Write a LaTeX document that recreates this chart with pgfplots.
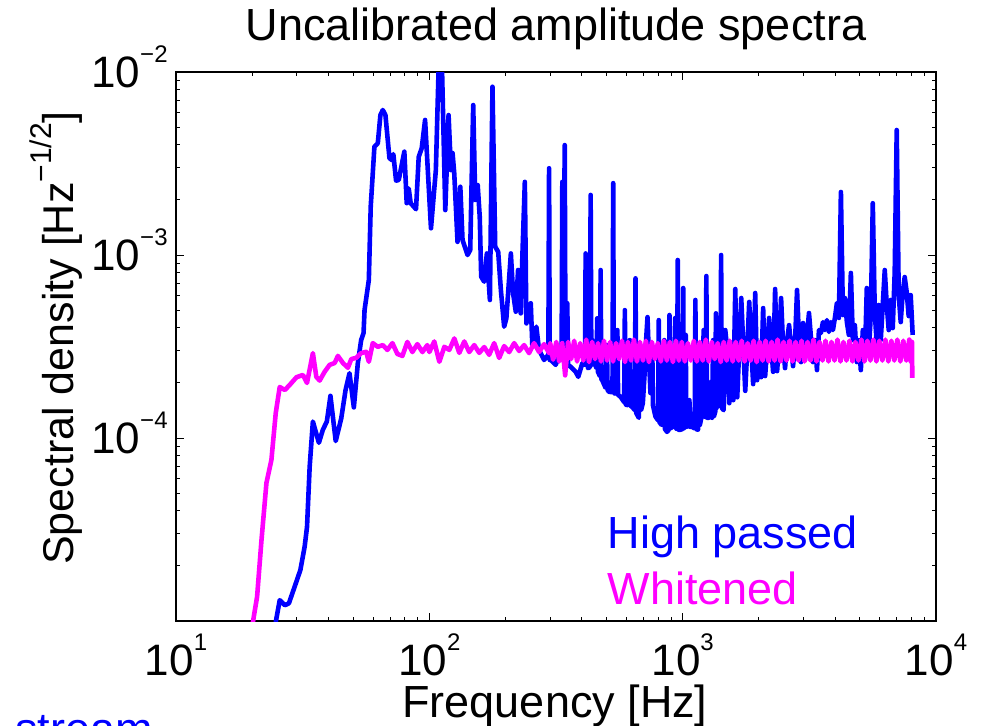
\documentclass[border=0pt]{standalone}
\usepackage{pgfplots}
\pgfplotsset{compat=1.18}
\usepackage{fontspec}
\setmainfont{Liberation Sans}
\definecolor{hpblue}{RGB}{0,0,255}
\definecolor{whmag}{RGB}{255,0,255}
\newcommand\tl[1]{10\raisebox{12.5pt}{\fontsize{12}{12}\selectfont #1}}
\begin{document}
\begin{tikzpicture}
\begin{axis}[
  xmode=log, ymode=log,
  at={(88pt,52pt)}, anchor=south west,
  width=380pt, height=274.5pt, scale only axis,
  xmin=10, xmax=10000, ymin=1e-5, ymax=1e-2,
  xtick={10,100,1000,10000},
  xticklabels={\tl{1},\tl{2},\tl{3},\tl{4}},
  ytick={1e-4,1e-3,1e-2},
  yticklabels={\tl{−4},\tl{−3},\tl{−2}},
  minor xtick={20,30,40,50,60,70,80,90,200,300,400,500,600,700,800,900,2000,3000,4000,5000,6000,7000,8000,9000},
  minor ytick={2e-5,3e-5,4e-5,5e-5,6e-5,7e-5,8e-5,9e-5,2e-4,3e-4,4e-4,5e-4,6e-4,7e-4,8e-4,9e-4,2e-3,3e-3,4e-3,5e-3,6e-3,7e-3,8e-3,9e-3},
  tick align=inside, xtick pos=both, ytick pos=both,
  major tick length=4pt, minor tick length=2pt,
  tick style={black, line width=0.5pt},
  axis line style={line width=0.9pt},
  ticklabel style={font=\fontsize{22}{26}\selectfont, inner sep=0pt},
  xticklabel style={anchor=base, yshift=-27pt},
  yticklabel style={anchor=base east, xshift=-4pt, yshift=-7.9pt},
]
\addplot[hpblue, line width=2.3pt, line join=round] coordinates {
(24.5,8.5e-6)(24.8,1.0e-5)(25.67,1.30e-5)(26.9,1.22e-5)(27.9,1.25e-5)(29.4,1.54e-5)(30.97,1.90e-5)(32.2,2.55e-5)(32.9,3.27e-5)(33.7,6.97e-5)
(34.7,1.23e-4)(36.65,9.42e-5)(38.0,1.11e-4)(39.4,1.23e-4)(40.7,1.70e-4)(42.7,9.63e-5)(44.9,1.28e-4)(46.7,1.83e-4)(48.4,2.26e-4)(50.35,1.47e-4)
(52.2,2.56e-4)(53.8,3.43e-4)(55.0,3.75e-4)(55.5,5.0e-4)(57.7,7.30e-4)(58.7,1.84e-3)(60.7,3.91e-3)(62.6,4.08e-3)(64.1,5.82e-3)(65.5,6.2e-3)
(67.1,5.82e-3)(69.6,3.38e-3)(71.3,3.30e-3)(72.1,3.56e-3)(73.9,2.55e-3)(75.7,2.57e-3)(79.7,3.67e-3)(81.4,1.92e-3)(82.9,2.31e-3)(84.4,1.92e-3)
(88.6,1.78e-3)(90.8,3.44e-3)(93.3,3.83e-3)(96.2,5.47e-3)(101.5,1.40e-3)(106.1,2.91e-3)(108.8,1.05e-2)(112.2,1.05e-2)(115.6,1.76e-3)(119.1,5.82e-3)
(121.7,2.91e-3)(123.5,3.61e-3)(125.4,2.80e-3)(129.2,1.18e-3)(132.5,2.36e-3)(135.2,1.21e-3)(141.5,1.0e-3)(145.0,1.065e-3)(149.0,6.6e-3)(151.8,2.0e-3)
(155.2,2.41e-3)(158.1,1.62e-3)(160.2,7.61e-4)(164.6,7.15e-4)(168.7,1.02e-3)(173.4,5.68e-4)(177.5,8.31e-3)(182.0,1.11e-3)(187.0,1.04e-3)(191.6,6.44e-4)
(197.4,4.06e-4)(201.4,4.51e-4)(209.8,1.02e-3)(214.1,6.18e-4)(219.4,4.9e-4)(224.0,8.28e-4)(229.6,4.8e-4)(232.9,9.79e-4)(238.2,2.51e-3)(241.6,4.23e-4)
(251.4,5.45e-4)(255.1,3.15e-4)(264.5,4.06e-4)(271.0,3.03e-4)
(283.7,2.67e-4)(294.2,2.84e-4)(295.0,2.77e-4)(296.9,2.98e-3)(298.7,2.67e-4)(301.5,2.67e-4)(315.4,2.51e-4)(325.0,2.84e-4)(332.8,2.74e-4)(334.9,2.51e-3)
(337.9,3.89e-4)(342.3,3.99e-3)(344.8,2.60e-4)(348.2,2.54e-4)(350.4,5.45e-4)(352.7,2.51e-4)(361.4,2.45e-4)(378.2,2.30e-4)(387.2,2.16e-4)(401.5,2.56e-4)
(411.4,2.51e-4)(414.0,1.02e-3)(417.1,3.89e-4)(420.1,6.20e-4)(422.8,2.41e-4)(430.5,2.44e-4)(433.2,2.13e-3)(436.0,2.51e-4)(439.6,3.43e-4)(442.4,2.60e-4)
(446.4,2.61e-4)(457.0,2.41e-4)(459.9,4.51e-4)(462.9,2.30e-4)(471.4,2.18e-4)(474.4,8.28e-4)(477.4,2.10e-4)(481.3,2.07e-4)(496.3,1.88e-4)(502.2,3.22e-4)
(505.4,1.83e-4)(511.4,1.79e-4)(528.4,1.78e-4)(531.8,2.47e-3)(535.1,1.76e-4)(543.5,1.75e-4)(552.4,3.89e-4)(555.9,1.72e-4)(568.7,1.68e-4)(587.5,1.57e-4)
(591.3,5.0e-4)(595.0,1.53e-4)(603.7,1.51e-4)(618.7,3.43e-4)(622.6,1.50e-4)(631.7,1.48e-4)(647.4,1.42e-4)(651.5,7.46e-4)(655.6,1.37e-4)(671.3,1.29e-4)
(680.5,3.22e-4)(684.8,1.42e-4)(696.1,1.55e-4)(708.8,2.35e-4)(718.5,3.56e-4)(726.4,4.58e-4)(733.0,3.22e-4)(746.4,1.76e-4)(758.7,3.03e-4)(763.5,1.51e-4)
(781.0,1.31e-4)(799.6,1.25e-4)(804.7,4.41e-4)(809.8,1.22e-4)(824.7,1.18e-4)(845.9,3.43e-4)(851.3,1.12e-4)(867.6,1.08e-4)(881.1,1.11e-4)(886.7,4.70e-4)
(892.3,1.13e-4)(913.6,1.15e-4)(934.6,4.53e-4)(940.5,1.13e-4)(950.0,1.12e-4)(956.0,9.39e-4)(962.1,1.11e-4)(979.7,1.11e-4)(998.5,1.12e-4)(1004.9,6.60e-4)
(1011.3,1.13e-4)(1027.9,3.66e-4)(1034.5,1.15e-4)(1063.0,1.61e-4)(1069.7,1.15e-4)(1088.3,1.15e-4)(1115.3,1.13e-4)(1122.4,5.68e-4)(1129.5,1.12e-4)(1149.2,1.11e-4)
(1161.7,3.22e-4)(1169.1,1.18e-4)(1191.6,1.34e-4)(1210.1,3.89e-4)(1217.8,1.32e-4)(1232.2,1.30e-4)(1240.1,7.68e-4)(1248.0,1.29e-4)(1266.2,1.29e-4)(1297.6,2.03e-4)
(1305.9,1.29e-4)(1318.9,3.43e-4)(1327.3,1.31e-4)(1344.3,1.39e-4)(1352.9,4.80e-4)(1361.5,1.46e-4)(1382.6,4.41e-4)(1391.4,1.51e-4)(1409.2,1.50e-4)(1418.2,1.0e-3)
(1427.2,1.46e-4)(1450.7,1.42e-4)
(1473,3.89e-4)(1500,3.03e-4)(1527.5,1.55e-4)(1555,3.22e-4)(1584,1.61e-4)(1613,6.52e-4)(1642,1.67e-4)(1672,3.10e-4)(1703,5.82e-4)(1734,3.22e-4)
(1766,1.81e-4)(1798,3.03e-4)(1831,5.54e-4)(1864,3.18e-4)(1898,1.97e-4)(1933,6.20e-4)(1968,2.07e-4)(2004,3.26e-4)(2041,2.15e-4)(2078,5.13e-4)
(2116,2.18e-4)(2155,3.10e-4)(2194,4.53e-4)(2234,3.22e-4)(2275,2.30e-4)(2317,6.52e-4)(2359,2.32e-4)(2402,3.30e-4)(2446,5.82e-4)(2491,3.18e-4)
(2536,2.41e-4)(2583,3.43e-4)(2630,4.14e-4)(2678,3.22e-4)(2727,2.47e-4)(2777,3.35e-4)(2828,6.44e-4)(2879,3.43e-4)(2932,2.60e-4)(2986,4.25e-4)
(3040,2.67e-4)(3096,3.66e-4)(3152,4.82e-4)(3210,3.52e-4)(3268,2.60e-4)(3328,3.43e-4)(3389,2.35e-4)(3451,3.89e-4)(3514,3.75e-4)(3578,4.30e-4)
(3644,3.89e-4)(3710,4.41e-4)(3778,3.80e-4)(3847,4.30e-4)(3918,3.89e-4)(3990,4.53e-4)(4063,5.47e-4)(4137,4.53e-4)(4213,2.21e-3)(4290,4.70e-4)
(4368,5.82e-4)(4448,4.30e-4)(4529,3.66e-4)(4612,7.98e-4)(4696,3.43e-4)(4782,4.14e-4)(4870,2.60e-4)(4959,3.43e-4)(5049,2.35e-4)(5142,3.89e-4)
(5236,2.67e-4)(5331,6.60e-4)(5429,2.95e-4)(5528,4.70e-4)(5629,1.92e-3)(5732,4.88e-4)(5837,3.22e-4)(5944,5.33e-4)(6052,3.43e-4)(6163,5.33e-4)
(6276,8.28e-4)(6391,5.33e-4)(6507,3.89e-4)(6627,5.68e-4)(6748,3.99e-4)(6871,8.08e-4)(6997,4.82e-3)(7125,6.04e-4)(7255,4.30e-4)(7388,6.20e-4)
(7523,7.58e-4)(7661,6.28e-4)(7801,4.64e-4)(7944,6.04e-4)(8089,3.66e-4)
};
\addplot[whmag, line width=2.3pt, line join=round] coordinates {
(19.8,8e-6)(20.15,1.0e-5)(20.9,1.36e-5)(21.75,2.77e-5)(22.75,5.68e-5)(23.8,7.59e-5)(24.76,1.37e-4)(25.67,1.90e-4)(26.9,1.83e-4)(28.1,1.95e-4)
(29.9,2.15e-4)(31.7,2.21e-4)(32.9,2.00e-4)(34.7,2.91e-4)(35.8,2.16e-4)(36.9,2.06e-4)(38.6,2.30e-4)(40.4,2.51e-4)(42.3,2.57e-4)(43.55,2.81e-4)
(45.6,2.57e-4)(47.7,2.42e-4)(49.2,2.70e-4)(51.4,2.74e-4)(53.8,2.91e-4)(56.3,2.96e-4)(57.7,2.61e-4)(59.8,3.30e-4)(62.6,3.15e-4)(65.5,3.22e-4)
(68.3,3.03e-4)(71.5,3.30e-4)(74.8,2.88e-4)(78.3,2.81e-4)(81.9,3.35e-4)(85.7,2.95e-4)(89.7,3.26e-4)(93.9,2.95e-4)(98.2,3.22e-4)
(100,2.95e-4)(104.6,3.37e-4)(109.5,2.61e-4)(114.6,3.15e-4)(119.9,3.03e-4)(125.5,3.50e-4)(131.3,2.92e-4)(137.4,3.37e-4)(143.7,2.95e-4)(150.4,3.22e-4)
(157.4,2.92e-4)(164.7,3.14e-4)(172.3,2.85e-4)(180.3,3.30e-4)(188.7,2.74e-4)(197.4,3.18e-4)(206.6,2.95e-4)(216.2,3.30e-4)(226.2,2.99e-4)(236.7,3.22e-4)
(247.6,2.91e-4)(259.1,3.30e-4)(271.2,2.95e-4)(283.7,3.26e-4)(296.9,2.91e-4)
(300,3.30e-4)(308,2.68e-4)(317,3.35e-4)(325.5,2.62e-4)(334.5,3.30e-4)(343.7,2.20e-4)(353,3.35e-4)(363,2.70e-4)(373,3.40e-4)(383,2.62e-4)
(394,3.30e-4)(405,2.65e-4)(416,3.45e-4)(427,2.60e-4)(439,3.35e-4)(451,2.70e-4)(463.5,3.30e-4)(476,2.62e-4)(489,3.40e-4)(503,2.65e-4)
(517,3.35e-4)(531,2.62e-4)(546,3.30e-4)(561,2.70e-4)(576,3.40e-4)(592,2.60e-4)(608,3.35e-4)(625,2.65e-4)(642,3.45e-4)(660,2.62e-4)
(678,3.35e-4)(697,2.65e-4)(716,3.40e-4)(736,2.60e-4)(756,3.35e-4)(777,2.70e-4)(798,3.30e-4)(820,2.62e-4)(843,3.40e-4)(866,2.65e-4)
(890,3.35e-4)(915,2.60e-4)(940,3.40e-4)(966,2.65e-4)(992,3.35e-4)(1020,2.62e-4)(1048,3.30e-4)(1077,2.65e-4)(1107,3.40e-4)(1137,2.62e-4)
(1168,3.35e-4)(1200,2.65e-4)(1234,3.45e-4)(1268,2.62e-4)(1303,3.35e-4)(1338,2.70e-4)(1375,3.30e-4)(1413,2.60e-4)(1452,3.35e-4)(1492,2.65e-4)
(1534,3.40e-4)(1576,2.62e-4)(1619,3.35e-4)(1664,2.65e-4)(1710,3.40e-4)(1757,2.62e-4)(1805,3.30e-4)(1855,2.65e-4)(1906,3.40e-4)(1959,2.60e-4)
(2013,3.35e-4)(2068,2.65e-4)(2125,3.40e-4)(2184,2.62e-4)(2244,3.35e-4)(2306,2.65e-4)(2370,3.45e-4)(2435,2.62e-4)(2502,3.35e-4)(2571,2.65e-4)
(2642,3.40e-4)(2715,2.62e-4)(2790,3.35e-4)(2867,2.65e-4)(2946,3.40e-4)(3027,2.62e-4)(3111,3.35e-4)(3196,2.65e-4)(3285,3.45e-4)(3375,2.62e-4)
(3468,3.35e-4)(3564,2.65e-4)(3662,3.40e-4)(3763,2.62e-4)(3867,3.35e-4)(3974,2.65e-4)(4083,3.45e-4)(4196,2.62e-4)(4311,3.35e-4)(4430,2.65e-4)
(4552,3.40e-4)(4678,2.62e-4)(4807,3.35e-4)(4940,2.65e-4)(5076,3.45e-4)(5216,2.62e-4)(5360,3.40e-4)(5507,2.65e-4)(5659,3.45e-4)(5815,2.62e-4)
(5976,3.40e-4)(6140,2.65e-4)(6310,3.45e-4)(6484,2.62e-4)(6663,3.40e-4)(6846,2.65e-4)(7035,3.45e-4)(7229,2.62e-4)(7428,3.40e-4)(7633,2.65e-4)
(7844,3.45e-4)(7950,2.62e-4)(8040,3.35e-4)(8060,2.13e-4)
};
\end{axis}
\begin{scope}[every node/.style={inner sep=0pt, font=\fontsize{22.5}{27}\selectfont}]
\node[anchor=base] at (278pt,342pt) {Uncalibrated amplitude spectra};
\node[anchor=base] at (277.5pt,4pt) {Frequency [Hz]};
\node[rotate=90, anchor=base, font=\fontsize{21.5}{26}\selectfont] at (36.5pt,193.5pt) {Spectral density [Hz\raisebox{11pt}{\fontsize{15}{15}\selectfont −1/2}]};
\node[anchor=base west, text=hpblue] at (303.75pt,88.5pt) {High passed};
\node[anchor=base west, text=whmag] at (303.75pt,60.5pt) {Whitened};
\node[anchor=base west, text=hpblue] at (7.5pt,-9.5pt) {stream};
\end{scope}
\pgfresetboundingbox
\path[use as bounding box] (0,0) rectangle (492pt,362.5pt);
\end{tikzpicture}
\end{document}
